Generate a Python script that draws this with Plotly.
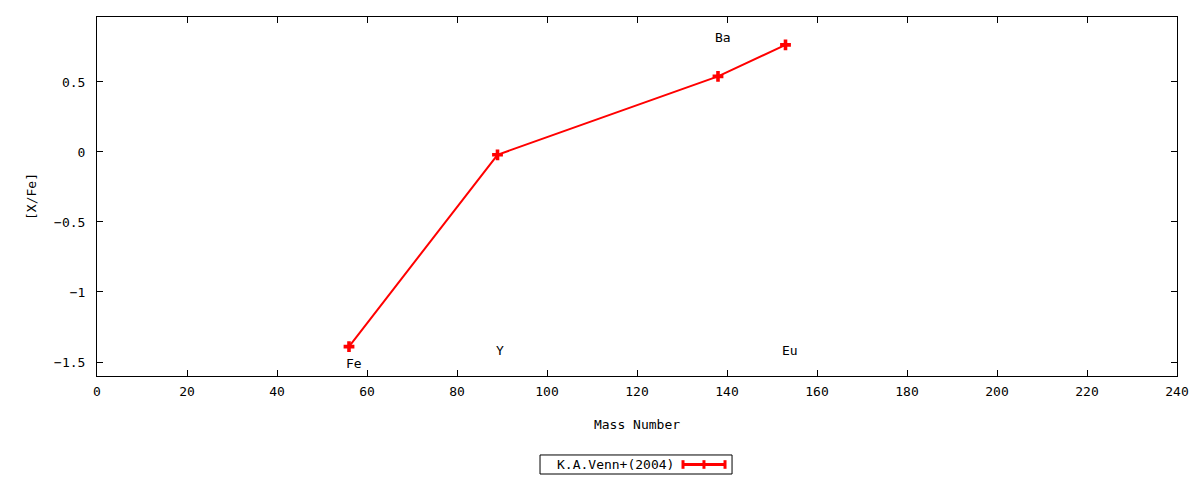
import plotly.graph_objects as go

elements = ["Fe", "Y", "Ba", "Eu"]
mass_number = [56, 89, 138, 153]
x_fe = [-1.39, -0.02, 0.54, 0.765]

label_x = [57, 89.5, 139, 154]
label_y = [-1.51, -1.415, 0.815, -1.415]

FONT = "DejaVu Sans Mono"
FS = 13

fig = go.Figure()
fig.add_trace(go.Scatter(
    x=mass_number, y=x_fe, mode="lines+markers",
    name="K.A.Venn+(2004)",
    line=dict(color="red", width=2),
    marker=dict(symbol="cross", size=9, color="red"),
    showlegend=False,
))

for el, lx, ly in zip(elements, label_x, label_y):
    fig.add_annotation(x=lx, y=ly, text=el, showarrow=False,
                       font=dict(family=FONT, size=FS, color="black"))

# legend drawn like gnuplot: boxed text first, then the sample line
fig.add_shape(type="rect", xref="paper", yref="paper",
              x0=0.4102, x1=0.588, y0=-0.273, y1=-0.22,
              line=dict(color="black", width=1), fillcolor="white")
ly_leg = -0.2465
fig.add_annotation(xref="paper", yref="paper", x=0.424, y=ly_leg,
                   xanchor="left", yanchor="middle",
                   text="K.A.Venn+(2004)", showarrow=False,
                   font=dict(family=FONT, size=FS, color="black"))
fig.add_shape(type="line", xref="paper", yref="paper",
              x0=0.5426, x1=0.5815, y0=ly_leg, y1=ly_leg,
              line=dict(color="red", width=3))
for tx in [0.5426, 0.562, 0.5815]:
    fig.add_shape(type="line", xref="paper", yref="paper",
                  x0=tx, x1=tx, y0=ly_leg - 0.012, y1=ly_leg + 0.012,
                  line=dict(color="red", width=3))

axis_common = dict(showline=True, linecolor="black", linewidth=1, mirror="ticks",
                   ticks="inside", ticklen=6, tickcolor="black",
                   showgrid=False, zeroline=False,
                   tickfont=dict(family=FONT, size=FS, color="black"))

fig.update_layout(
    width=1200, height=480,
    margin=dict(l=89, r=31, t=9, b=112),
    plot_bgcolor="white", paper_bgcolor="white",
    font=dict(family=FONT, size=FS, color="black"),
    xaxis=dict(range=[0, 240], dtick=20, ticklabelstandoff=3,
               title=dict(text="Mass Number", standoff=22,
                          font=dict(family=FONT, size=FS)),
               **axis_common),
    yaxis=dict(range=[-1.6, 0.964], dtick=0.5, ticklabelstandoff=8,
               title=dict(text="[X/Fe]", standoff=14,
                          font=dict(family=FONT, size=FS)),
               **axis_common),
)

fig.write_html("out.html")
